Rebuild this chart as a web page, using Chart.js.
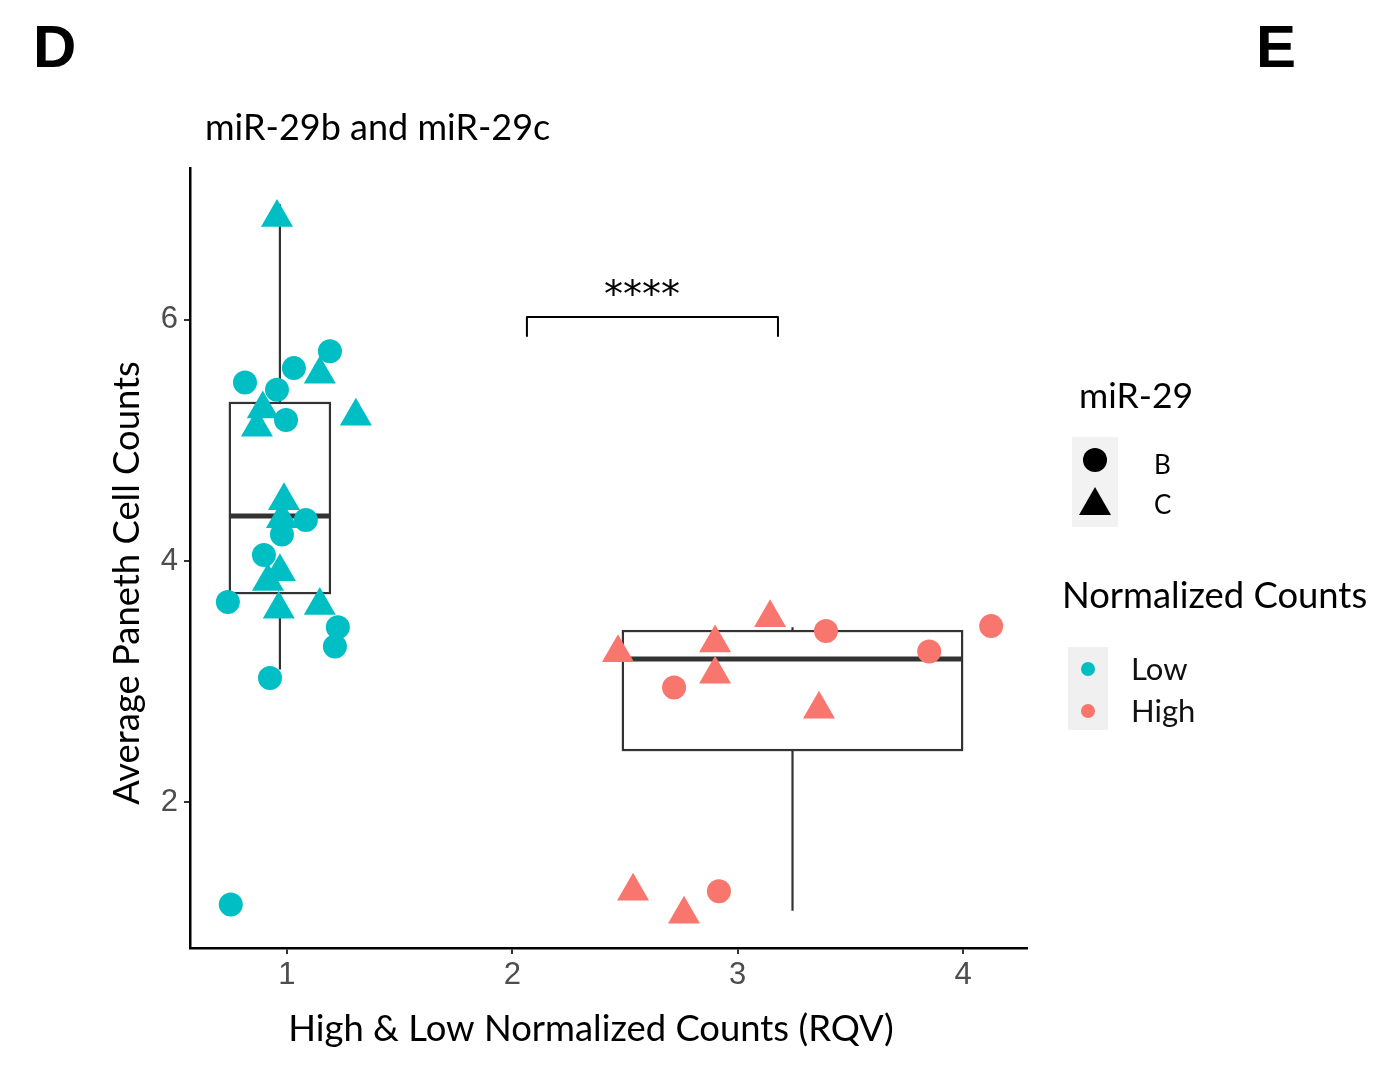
<!DOCTYPE html>
<html>
<head>
<meta charset="utf-8">
<script src="https://cdn.jsdelivr.net/npm/chart.js@4"></script>
<style>
  html, body { margin: 0; padding: 0; background: #fff; }
  #wrap { width: 1383px; height: 1067px; }
</style>
</head>
<body>
<div id="wrap"><canvas id="pcChart" width="1383" height="1067"></canvas></div>
<script>
// Low normalized counts (teal), miR-29b = circles, miR-29c = triangles
const lowBX = [1.191, 1.031, 0.814, 0.956, 0.996, 1.084, 0.978, 0.898, 0.738, 1.226, 1.213, 0.925, 0.751];
const lowBY = [5.74, 5.60, 5.48, 5.42, 5.17, 4.34, 4.22, 4.05, 3.66, 3.45, 3.29, 3.03, 1.15];
const lowCX = [0.956, 1.146, 0.893, 0.867, 1.306, 0.987, 0.978, 0.969, 0.916, 0.964, 1.146];
const lowCY = [6.85, 5.55, 5.26, 5.11, 5.20, 4.50, 4.35, 3.91, 3.83, 3.60, 3.63];

// High normalized counts (salmon)
const highBX = [3.392, 4.125, 3.85, 2.718, 2.917];
const highBY = [3.42, 3.46, 3.25, 2.95, 1.26];
const highCX = [3.144, 2.90, 2.469, 2.90, 3.361, 2.536, 2.762];
const highCY = [3.53, 3.32, 3.24, 3.06, 2.77, 1.26, 1.07];

// box summaries per group
const boxGroups = ["Low", "High"];
const boxXMin = [0.747, 2.491];
const boxXMax = [1.191, 3.996];
const boxLower = [3.10, 1.10];
const boxQ1 = [3.734, 2.432];
const boxMedian = [4.373, 3.187];
const boxQ3 = [5.311, 3.419];
const boxUpper = [6.96, 3.45];

// significance bracket
const sigX = [2.065, 3.179];
const sigY = [6.025, 5.86];
const sigLabel = "****";
const sigLabelX = 2.576;

const xTicks = [1, 2, 3, 4];
const yTicks = [2, 4, 6];

const TEAL = "#00BFC4";
const SALMON = "#F8766D";

const pts = (xs, ys) => xs.map((x, i) => ({ x: x, y: ys[i] }));

const boxPlugin = {
  id: "boxes",
  beforeDatasetsDraw(chart) {
    const { ctx, scales: { x, y } } = chart;
    ctx.save();
    ctx.strokeStyle = "#333333";
    ctx.lineCap = "butt";
    boxGroups.forEach((g, i) => {
      const x0 = x.getPixelForValue(boxXMin[i]);
      const x1 = x.getPixelForValue(boxXMax[i]);
      const xm = (x0 + x1) / 2;
      const q1 = y.getPixelForValue(boxQ1[i]);
      const q3 = y.getPixelForValue(boxQ3[i]);
      ctx.lineWidth = 2.2;
      ctx.beginPath();
      ctx.moveTo(xm, y.getPixelForValue(boxUpper[i]));
      ctx.lineTo(xm, q3);
      ctx.moveTo(xm, q1);
      ctx.lineTo(xm, y.getPixelForValue(boxLower[i]));
      ctx.stroke();
      ctx.strokeRect(x0, q3, x1 - x0, q1 - q3);
      ctx.lineWidth = 5;
      ctx.beginPath();
      const md = y.getPixelForValue(boxMedian[i]);
      ctx.moveTo(x0, md);
      ctx.lineTo(x1, md);
      ctx.stroke();
    });
    ctx.restore();
  },
  afterDatasetsDraw(chart) {
    const { ctx, scales: { x, y } } = chart;
    const bx0 = x.getPixelForValue(sigX[0]);
    const bx1 = x.getPixelForValue(sigX[1]);
    const top = y.getPixelForValue(sigY[0]);
    const bot = y.getPixelForValue(sigY[1]);
    ctx.save();
    ctx.strokeStyle = "#000";
    ctx.lineWidth = 2;
    ctx.lineJoin = "round";
    ctx.beginPath();
    ctx.moveTo(bx0, bot);
    ctx.lineTo(bx0, top);
    ctx.lineTo(bx1, top);
    ctx.lineTo(bx1, bot);
    ctx.stroke();
    ctx.fillStyle = "#000";
    ctx.font = "38px 'DejaVu Sans'";
    ctx.textAlign = "center";
    ctx.textBaseline = "alphabetic";
    ctx.fillText(sigLabel, x.getPixelForValue(sigLabelX), top - 10);
    ctx.restore();
  }
};

// titles, panel letters and the two legends
const textPlugin = {
  id: "texts",
  afterDraw(chart) {
    const ctx = chart.ctx;
    ctx.save();
    ctx.fillStyle = "#000";
    ctx.textBaseline = "middle";
    ctx.textAlign = "left";

    ctx.font = "bold 60px 'Liberation Sans'";
    ctx.fillText("D", 33, 50);
    ctx.fillText("E", 1256, 50);

    ctx.font = "36px Lato";
    ctx.fillText("miR-29b and miR-29c", 205, 128);

    ctx.font = "36.4px Lato";
    ctx.textAlign = "center";
    ctx.fillText("High & Low Normalized Counts (RQV)", 591, 1029);
    ctx.save();
    ctx.translate(127, 583);
    ctx.rotate(-Math.PI / 2);
    ctx.fillText("Average Paneth Cell Counts", 0, 0);
    ctx.restore();

    // shape legend
    ctx.textAlign = "left";
    ctx.font = "35.5px Lato";
    ctx.fillText("miR-29", 1079, 397);
    ctx.fillStyle = "#F2F2F2";
    ctx.fillRect(1072, 437, 46, 90);
    ctx.fillStyle = "#000";
    ctx.beginPath();
    ctx.arc(1095, 460, 12, 0, Math.PI * 2);
    ctx.fill();
    ctx.beginPath();
    ctx.moveTo(1095, 487);
    ctx.lineTo(1111, 515);
    ctx.lineTo(1079, 515);
    ctx.closePath();
    ctx.fill();
    ctx.font = "26px Lato";
    ctx.fillText("B", 1154, 466);
    ctx.fillText("C", 1154, 506);

    // colour legend
    ctx.font = "36.4px Lato";
    ctx.fillText("Normalized Counts", 1062, 596);
    ctx.fillStyle = "#F0F0F0";
    ctx.fillRect(1068, 647, 40, 83);
    [[TEAL, 669, "Low"], [SALMON, 711, "High"]].forEach(([c, cy, lab]) => {
      ctx.fillStyle = c;
      ctx.beginPath();
      ctx.arc(1088, cy, 7, 0, Math.PI * 2);
      ctx.fill();
      ctx.fillStyle = "#111";
      ctx.font = "31px Lato";
      ctx.fillText(lab, 1131, cy + 1);
    });
    ctx.restore();
  }
};

const tickFont = { family: "'Liberation Sans'", size: 31 };

new Chart(document.getElementById("pcChart"), {
  type: "scatter",
  data: {
    datasets: [
      { label: "Low B", data: pts(lowBX, lowBY), pointStyle: "circle", pointRadius: 12, backgroundColor: TEAL },
      { label: "Low C", data: pts(lowCX, lowCY), pointStyle: "triangle", pointRadius: 18.5, backgroundColor: TEAL },
      { label: "High B", data: pts(highBX, highBY), pointStyle: "circle", pointRadius: 12, backgroundColor: SALMON },
      { label: "High C", data: pts(highCX, highCY), pointStyle: "triangle", pointRadius: 18.5, backgroundColor: SALMON }
    ].map((d) => Object.assign(d, { borderWidth: 0, pointHoverRadius: d.pointRadius }))
  },
  options: {
    responsive: false,
    animation: false,
    events: [],
    layout: { padding: { left: 0, top: 168, right: 356, bottom: 0 } },
    plugins: { legend: { display: false }, tooltip: { enabled: false } },
    scales: {
      x: {
        type: "linear",
        min: 0.57,
        max: 4.284,
        afterBuildTicks: (s) => { s.ticks = xTicks.map((v) => ({ value: v })); },
        afterFit: (s) => { s.height = 119; },
        border: { display: true, color: "#000", width: 2.5 },
        grid: { drawOnChartArea: false, drawTicks: true, tickLength: 6, color: "#333", lineWidth: 2 },
        ticks: { font: tickFont, color: "#4D4D4D", padding: 3, maxRotation: 0 }
      },
      y: {
        type: "linear",
        min: 0.79,
        max: 7.26,
        afterBuildTicks: (s) => { s.ticks = yTicks.map((v) => ({ value: v })); },
        afterFit: (s) => { s.width = 190; },
        border: { display: true, color: "#000", width: 2.5 },
        grid: { drawOnChartArea: false, drawTicks: true, tickLength: 6, color: "#333", lineWidth: 2 },
        ticks: { font: tickFont, color: "#4D4D4D", padding: 6 }
      }
    }
  },
  plugins: [boxPlugin, textPlugin]
});
</script>
</body>
</html>
